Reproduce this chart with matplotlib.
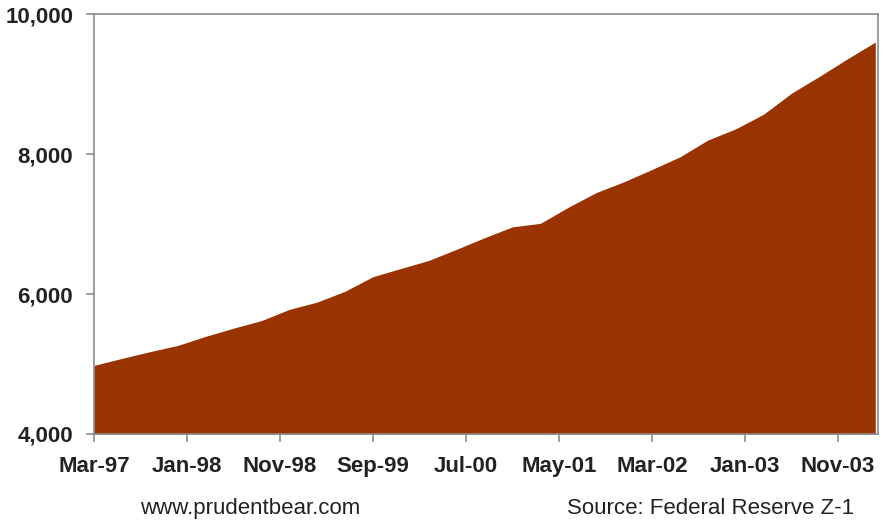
import matplotlib
matplotlib.use("Agg")
import matplotlib.pyplot as plt
from matplotlib.ticker import FuncFormatter

plt.rcParams['font.family'] = ['Liberation Sans', 'DejaVu Sans']

# Quarter-end values, months counted from Mar-97
months = list(range(0, 85, 3))
values = [4980, 5080, 5176, 5265, 5395, 5512, 5620, 5780, 5885, 6040,
          6248, 6365, 6480, 6640, 6805, 6960, 7010, 7240, 7450, 7605,
          7780, 7960, 8200, 8360, 8570, 8870, 9110, 9360, 9600]

tick_months = [0, 10, 20, 30, 40, 50, 60, 70, 80]
tick_labels = ['Mar-97', 'Jan-98', 'Nov-98', 'Sep-99', 'Jul-00',
               'May-01', 'Mar-02', 'Jan-03', 'Nov-03']

fill_color = '#993300'
spine_color = '#8c8c8c'
text_color = '#222222'

fig = plt.figure(figsize=(8.84, 5.21), dpi=100)
ax = fig.add_axes([0.1063, 0.167, 0.8870, 0.806])

ax.fill_between(months, values, 4000, color=fill_color, linewidth=0)

ax.set_xlim(0, 84.3)
ax.set_ylim(4000, 10000)
ax.set_yticks([4000, 6000, 8000, 10000])
ax.yaxis.set_major_formatter(FuncFormatter(lambda v, p: f'{int(v):,}'))
ax.set_xticks(tick_months)
ax.set_xticklabels(tick_labels)

for s in ax.spines.values():
    s.set_color(spine_color)
    s.set_linewidth(1.2)

ax.tick_params(axis='both', colors=spine_color, length=6, width=1.2,
               labelcolor=text_color, labelsize=16)
ax.tick_params(axis='y', pad=9)
ax.tick_params(axis='x', pad=10)
for lbl in ax.get_xticklabels() + ax.get_yticklabels():
    lbl.set_fontweight('bold')

fig.text(0.158, 0.014, 'www.prudentbear.com', fontsize=16, color=text_color)
fig.text(0.641, 0.014, 'Source: Federal Reserve Z-1', fontsize=16,
         color=text_color)

fig.savefig('out.png', dpi=100)
